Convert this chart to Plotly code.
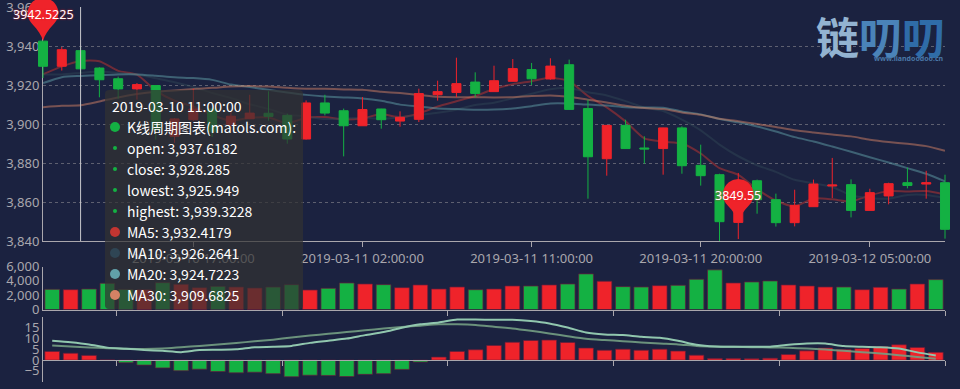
import math
import plotly.graph_objects as go

W, H = 960, 389
BG = "#1b2240"
RED = "#ef232a"
GREEN = "#14b143"

times = ["2019-03-10 09:00:00","2019-03-10 10:00:00","2019-03-10 11:00:00","2019-03-10 12:00:00","2019-03-10 13:00:00","2019-03-10 14:00:00","2019-03-10 15:00:00","2019-03-10 16:00:00","2019-03-10 17:00:00","2019-03-10 18:00:00","2019-03-10 19:00:00","2019-03-10 20:00:00","2019-03-10 21:00:00","2019-03-10 22:00:00","2019-03-10 23:00:00","2019-03-11 00:00:00","2019-03-11 01:00:00","2019-03-11 02:00:00","2019-03-11 03:00:00","2019-03-11 04:00:00","2019-03-11 05:00:00","2019-03-11 06:00:00","2019-03-11 07:00:00","2019-03-11 08:00:00","2019-03-11 09:00:00","2019-03-11 10:00:00","2019-03-11 11:00:00","2019-03-11 12:00:00","2019-03-11 13:00:00","2019-03-11 14:00:00","2019-03-11 15:00:00","2019-03-11 16:00:00","2019-03-11 17:00:00","2019-03-11 18:00:00","2019-03-11 19:00:00","2019-03-11 20:00:00","2019-03-11 21:00:00","2019-03-11 22:00:00","2019-03-11 23:00:00","2019-03-12 00:00:00","2019-03-12 01:00:00","2019-03-12 02:00:00","2019-03-12 03:00:00","2019-03-12 04:00:00","2019-03-12 05:00:00","2019-03-12 06:00:00","2019-03-12 07:00:00","2019-03-12 08:00:00","2019-03-12 09:00:00"]
opens = [3942.5,3929.6,3937.6182,3928.7,3923.2,3918,3919.7,3893.7,3902.2,3907.7,3899.7,3902.7,3905.5,3904.4,3892.3,3910.8,3906.8,3899.1,3907.7,3901.5,3902.4,3915,3916.2,3921.5,3916.6,3921.9,3927.9,3923.1,3930.4,3907.9,3882.2,3899.3,3887.7,3887.4,3898,3878.8,3874,3849.55,3870.9,3861.2,3849.4,3857.6,3868.2,3868.9,3855.7,3863.1,3869.9,3869.2,3869.9]
closes = [3929.6,3938.1,3928.285,3922.7,3918,3920.2,3897,3902.6,3907.7,3896,3904,3905.6,3903.9,3892.3,3910.8,3905.6,3899.1,3907.4,3902.2,3903.4,3915.6,3916.6,3920.7,3915.7,3922.2,3928.4,3923.2,3929.7,3907.5,3883.2,3899.3,3887.4,3887.2,3898,3878.6,3873.5,3849.9,3870,3861.2,3849.4,3858.3,3869.2,3868.7,3855.7,3864.8,3869.4,3868.5,3869.9,3846]
lows = [3923.6,3927.4,3925.949,3913.7,3913,3912.5,3892,3890.3,3901.5,3893.3,3895.7,3902.5,3901.7,3889.9,3892,3904.4,3883.4,3899,3897.6,3898.6,3901,3912,3913.8,3913.7,3916.5,3921.8,3920,3922.7,3907.4,3861.7,3873.5,3887.3,3879.7,3874,3874.5,3868.4,3840,3841,3854,3847.4,3847.5,3857.5,3862,3852.1,3855.6,3858.8,3867,3861.7,3841.2]
highs = [3942.5225,3939.5,3939.3228,3929.1,3924.3,3921,3920,3903,3918,3908,3906.5,3915,3916.8,3905.3,3912.1,3915,3907.9,3913.8,3907.8,3906.5,3918.1,3922.2,3934,3926.5,3929.9,3933.3,3931.3,3933.7,3933,3912.5,3899.4,3902.2,3893.7,3898.1,3898.8,3889.4,3874.5,3874.9,3871.5,3864.3,3866.3,3871.5,3882.6,3871.6,3866.8,3869.9,3877.6,3876,3874]
ma5 = [3925.5,3929.6,3932.4179,3932.3,3927.3,3925.4,3917.2,3912,3909,3904.7,3901.7,3903.2,3903.4,3900.4,3903.3,3903.6,3902.4,3903,3905,3903.5,3905.5,3909,3911.7,3914.4,3918,3920.5,3922,3923.8,3922,3914.4,3908.6,3901.4,3892.7,3891,3890,3884.9,3877.4,3874,3866.6,3860.8,3857.8,3861.8,3861.4,3860.3,3863.4,3865.6,3865.4,3865.6,3863.9]
ma10 = [3925.5,3925.5,3926.2641,3927,3926.2,3925.5,3923.5,3921.5,3919,3916,3913.4,3910.2,3907.8,3904.8,3904,3902.6,3902.8,3903.3,3902.7,3903.5,3904.7,3905.8,3907.4,3909.8,3911,3913.2,3915.6,3917.9,3918.4,3916.4,3914.7,3911.8,3908.5,3906.7,3902.3,3896.8,3889.5,3883.5,3878.9,3875.5,3871.4,3869.6,3867.7,3863.5,3862.1,3861.7,3863.6,3863.6,3862]
ma20 = [3921,3924.1,3924.7223,3925.1,3925.5,3925.5,3924.8,3924,3923.6,3922.7,3920.3,3919,3917.6,3916.2,3915,3914.2,3913.7,3913.2,3912,3910,3909,3908,3907.7,3907.4,3907.5,3908,3909.2,3910.6,3910.6,3910,3909.6,3908.7,3908.5,3908.4,3906.5,3905,3902.6,3900.9,3898.8,3896.2,3893.3,3891.1,3888.5,3885.8,3883,3880.3,3877.4,3874.5,3870.6]
ma30 = [3908.7,3909.4,3909.6825,3911.6,3913.7,3915.4,3916.6,3917.3,3918,3918.6,3919.3,3919.5,3919.3,3918.6,3918.1,3918.1,3917.8,3917.6,3916.6,3915.9,3915,3914,3913.8,3913.8,3913.7,3913.8,3914.4,3914.7,3914,3912.5,3911.1,3909.4,3908.2,3907.7,3906,3904.8,3902.7,3901.5,3900,3898.5,3896.8,3895.7,3894.7,3893.7,3892,3890.8,3889.9,3888.7,3886.3]
volumes = [2812,2766,2860,3656,2812,2766,3750,3516,3047,3235,3140,3000,3140,3470,2720,2955,3700,3560,3470,3047,3424,2860,3140,2766,2860,3280,3280,3424,3560,4970,3940,3190,3140,3330,3377,4220,5530,3700,3845,3985,3424,3280,3140,3140,2766,3095,2860,3560,4170]
macd_hist = [4,3.2,2.2,0.1,-1.2,-2.3,-3.6,-4.9,-4.2,-5.3,-5.9,-5.6,-6.3,-7.7,-7,-7.1,-7.6,-6.6,-6.3,-4.3,-0.9,1.4,4,4.8,6.8,8.3,9.1,9.3,8.2,5.6,4.6,5.1,4.6,5.1,4.2,2.3,0.8,0.8,0.6,0.9,2.6,4.3,5.6,4.9,5.4,6.2,7.1,5.9,3.6]
dif = [9,8.3,7.3,5.8,5.3,4.7,4.3,3.7,4.7,4.8,5,6,6.2,6.6,8,9,10,11.6,13,15,16.6,17.5,18.8,18.8,18.7,18.7,18.1,17,15.1,12.8,11.9,11.6,10.8,10.4,9,7.1,6.3,6.2,6.2,6.2,7.1,7.7,7.7,6.5,6.2,6,5.4,3.6,2.2]
dea = [6.8,6.3,5.9,5.5,5.3,5.2,5.4,6,6.6,7.2,8,8.7,9.5,10.5,11.4,12.2,13,13.8,14.7,15.4,16,16.6,16.6,16.3,15.5,14.7,13.6,12.4,11.1,9.9,9.3,8.8,8.2,7.7,7.3,6.6,6.3,6.2,6,5.9,5.7,5.4,4.9,4.3,3.7,3.1,2.3,1.5,0.6]
main_tick_idx = [8, 17, 26, 35, 44]
band_tick_pos = [3.5, 12.5, 21.5, 30.5, 39.5, 48.5]
y_ticks = [3840,3860,3880,3900,3920,3940,3960]
vol_ticks = [0,2000,4000,6000]
macd_ticks = [-5,0,5,10,15]
max_pin = (0, 3942.5225, "3942.5225")
min_pin = (37, 3849.55, "3849.55")
tip_title = "2019-03-10 11:00:00"
tip_rows = ["K线周期图表(matols.com):","open: 3,937.6182","close: 3,928.285","lowest: 3,925.949","highest: 3,939.3228","MA5: 3,932.4179","MA10: 3,926.2641","MA20: 3,924.7223","MA30: 3,909.6825"]
tip_dots = [("#14b143",5),("#14b143",2),("#14b143",2),("#14b143",2),("#14b143",2),("#c23531",5),("#2f4554",5),("#61a0a8",5),("#d48265",5)]

FONT = "Noto Sans, sans-serif"
LBL = "#a9a7ad"

def fx(px): return px / W
def fy(py): return 1 - py / H
def dom(a, b): return [fy(b), fy(a)]

L, R = 43.0, 945.0
unit = (R - L) / 48
fig = go.Figure()

# moving-average lines (below candles)
for vals, c in ((ma5,"#c23531"),(ma10,"#2f4554"),(ma20,"#61a0a8"),(ma30,"#d48265")):
    fig.add_trace(go.Scatter(x=list(range(49)), y=vals, mode="lines", xaxis="x", yaxis="y",
                             line=dict(color=c, width=2, shape="spline", smoothing=0.6), opacity=0.5,
                             hoverinfo="skip", showlegend=False))

fig.add_trace(go.Candlestick(x=list(range(49)), open=opens, high=highs, low=lows, close=closes,
                             xaxis="x2", yaxis="y2", whiskerwidth=0,
                             increasing=dict(line=dict(color=RED, width=1), fillcolor=RED),
                             decreasing=dict(line=dict(color=GREEN, width=1), fillcolor=GREEN),
                             hoverinfo="skip", showlegend=False))

vol_colors = [RED if c > o else GREEN for o, c in zip(opens, closes)]
fig.add_trace(go.Bar(x=list(range(49)), y=volumes, xaxis="x3", yaxis="y3", width=0.8,
                     marker=dict(color=vol_colors, line=dict(color="rgba(100,30,60,0.7)", width=1)),
                     hoverinfo="skip", showlegend=False))
hist_colors = [RED if v > 0 else GREEN for v in macd_hist]
fig.add_trace(go.Bar(x=list(range(49)), y=macd_hist, xaxis="x4", yaxis="y4", width=0.8,
                     marker=dict(color=hist_colors, line=dict(color="rgba(100,30,60,0.7)", width=1)),
                     hoverinfo="skip", showlegend=False))
fig.add_trace(go.Scatter(x=list(range(49)), y=dea, mode="lines", xaxis="x4", yaxis="y4",
                         line=dict(color="#749f83", width=2, shape="spline", smoothing=0.6), opacity=0.9,
                         hoverinfo="skip", showlegend=False))
fig.add_trace(go.Scatter(x=list(range(49)), y=dif, mode="lines", xaxis="x4", yaxis="y4",
                         line=dict(color="#91c7ae", width=2, shape="spline", smoothing=0.6),
                         hoverinfo="skip", showlegend=False))

tickfont = dict(family=FONT, size=13, color=LBL)
axis_line = dict(showline=True, linecolor="#aaa7ad", linewidth=1, automargin=False)
layout_axes = dict(
    xaxis=dict(domain=[fx(L), fx(R)], range=[0, 48], anchor="y", tickmode="array",
               tickvals=main_tick_idx, ticktext=[times[i] for i in main_tick_idx],
               ticks="outside", ticklen=5, tickcolor="#aaa7ad", tickfont=tickfont,
               showgrid=False, zeroline=False, **axis_line),
    yaxis=dict(domain=dom(7.2, 241), range=[3840, 3960], anchor="x", tickvals=y_ticks, tickformat=",d",
               tickfont=tickfont, showgrid=True, gridcolor="#5e6070", griddash="3px,3px", gridwidth=1,
               ticklabeloverflow="allow", zeroline=False, **axis_line),
    xaxis2=dict(domain=[0, 1], range=[-L / unit, (W - L) / unit], anchor="y2", visible=False, automargin=False),
    yaxis2=dict(domain=dom(0, 241), range=[3840, 3840 + 241 / 1.95], anchor="x2", visible=False, automargin=False),
    xaxis3=dict(domain=[fx(L), fx(R)], range=[-0.5, 48.5], anchor="y3", tickvals=band_tick_pos, ticktext=[""] * 6,
                ticks="outside", ticklen=5, tickcolor="#aaa7ad", showgrid=False, zeroline=False, **axis_line),
    yaxis3=dict(domain=dom(266.5, 309.5), range=[0, 6000], anchor="x3", tickvals=vol_ticks, tickformat=",d",
                tickfont=tickfont, showgrid=False, zeroline=False, **axis_line),
    xaxis4=dict(domain=[fx(L), fx(R)], range=[-0.5, 48.5], anchor="free", position=fy(360.1), tickvals=band_tick_pos,
                ticktext=[""] * 6, ticks="outside", ticklen=5, tickcolor="#aaa7ad", showgrid=False, zeroline=False, **axis_line),
    yaxis4=dict(domain=dom(317, 381.7), range=[-10, 20], anchor="x4", tickvals=macd_ticks,
                tickfont=tickfont, showgrid=False, zeroline=False, **axis_line),
)

def pin_path(r=15.3, cy=28.0):
    a0 = math.atan2(-11.0, 10.5)
    a1 = math.pi - a0
    n = 48
    pts = []
    for k in range(n + 1):
        a = a0 + (a1 - a0) * k / n
        pts.append((r * math.cos(a), cy + r * math.sin(a)))
    s = "M 0 0 C 1.5 6 5 11 %.2f %.2f " % pts[0]
    s += " ".join("L %.2f %.2f" % p for p in pts[1:])
    s += " C -5 11 -1.5 6 0 0 Z"
    return s

shapes, anns = [], []
# watermark
anns.append(dict(xref="paper", yref="paper", x=fx(880), y=fy(35), xanchor="center", yanchor="middle",
                 text='<b><span style="color:#93b3d1">链</span><span style="color:#4a83b8">叨</span><span style="color:#2f6ca8">叨</span></b>',
                 showarrow=False, font=dict(family="Noto Sans CJK SC", size=43, color="#3a72a8")))
anns.append(dict(xref="paper", yref="paper", x=fx(946), y=fy(58), xanchor="right", yanchor="middle",
                 text="<b>www.liandoodoo.cn</b>", showarrow=False,
                 font=dict(family=FONT, size=7, color="#4a78a8")))
# crosshair
shapes.append(dict(type="line", xref="x", yref="paper", x0=2, x1=2, y0=fy(241), y1=fy(7),
                   line=dict(color="#c8c8cc", width=1), layer="above"))
# pins
for idx, val, label in (max_pin, min_pin):
    shapes.append(dict(type="path", xref="x2", yref="y2", xsizemode="pixel", ysizemode="pixel",
                       xanchor=idx, yanchor=val, path=pin_path(), fillcolor=RED, line=dict(width=0), layer="above"))
    anns.append(dict(xref="x2", yref="y2", x=idx, y=val, yshift=27, xanchor="center", yanchor="middle",
                     text=label, showarrow=False,
                     font=dict(family=FONT, size=12.5, color="#ffffff", shadow="0 0 2px #ef232a")))

# tooltip
tx0, tx1, ty0, ty1 = 105.0, 303.0, 90.0, 309.0
rad = 4
shapes.append(dict(type="path", xref="paper", yref="paper", layer="above", fillcolor="rgba(50,50,50,0.7)", line=dict(width=0),
    path=(f"M {fx(tx0+rad)} {fy(ty0)} L {fx(tx1-rad)} {fy(ty0)} Q {fx(tx1)} {fy(ty0)} {fx(tx1)} {fy(ty0+rad)} "
          f"L {fx(tx1)} {fy(ty1-rad)} Q {fx(tx1)} {fy(ty1)} {fx(tx1-rad)} {fy(ty1)} "
          f"L {fx(tx0+rad)} {fy(ty1)} Q {fx(tx0)} {fy(ty1)} {fx(tx0)} {fy(ty1-rad)} "
          f"L {fx(tx0)} {fy(ty0+rad)} Q {fx(tx0)} {fy(ty0)} {fx(tx0+rad)} {fy(ty0)} Z")))
tipfont = dict(family="Noto Sans CJK SC, Noto Sans, sans-serif", size=14, color="#ffffff")
anns.append(dict(xref="paper", yref="paper", x=fx(110), y=fy(105.5), xanchor="left", yanchor="middle",
                 text=tip_title, showarrow=False, font=tipfont))
for k, (row, (col, r)) in enumerate(zip(tip_rows, tip_dots)):
    cy = 127 + k * 21
    shapes.append(dict(type="circle", xref="paper", yref="paper", layer="above", fillcolor=col, line=dict(width=0),
                       x0=fx(115 - r), x1=fx(115 + r), y0=fy(cy + r), y1=fy(cy - r)))
    anns.append(dict(xref="paper", yref="paper", x=fx(125), y=fy(cy), xanchor="left", yanchor="middle",
                     text=row, showarrow=False, font=tipfont))

fig.update_layout(width=W, height=H, autosize=False, margin=dict(l=0, r=0, t=0, b=0),
                  paper_bgcolor=BG, plot_bgcolor="rgba(0,0,0,0)", showlegend=False, boxgap=0.52, boxgroupgap=0,
                  shapes=shapes, annotations=anns, hovermode=False, **layout_axes)
fig.update_xaxes(rangeslider_visible=False)
fig.write_html("out.html", config=dict(displayModeBar=False), default_width=W, default_height=H,
               post_script=["document.body.style.margin='0';document.body.style.background='%s';" % BG])
